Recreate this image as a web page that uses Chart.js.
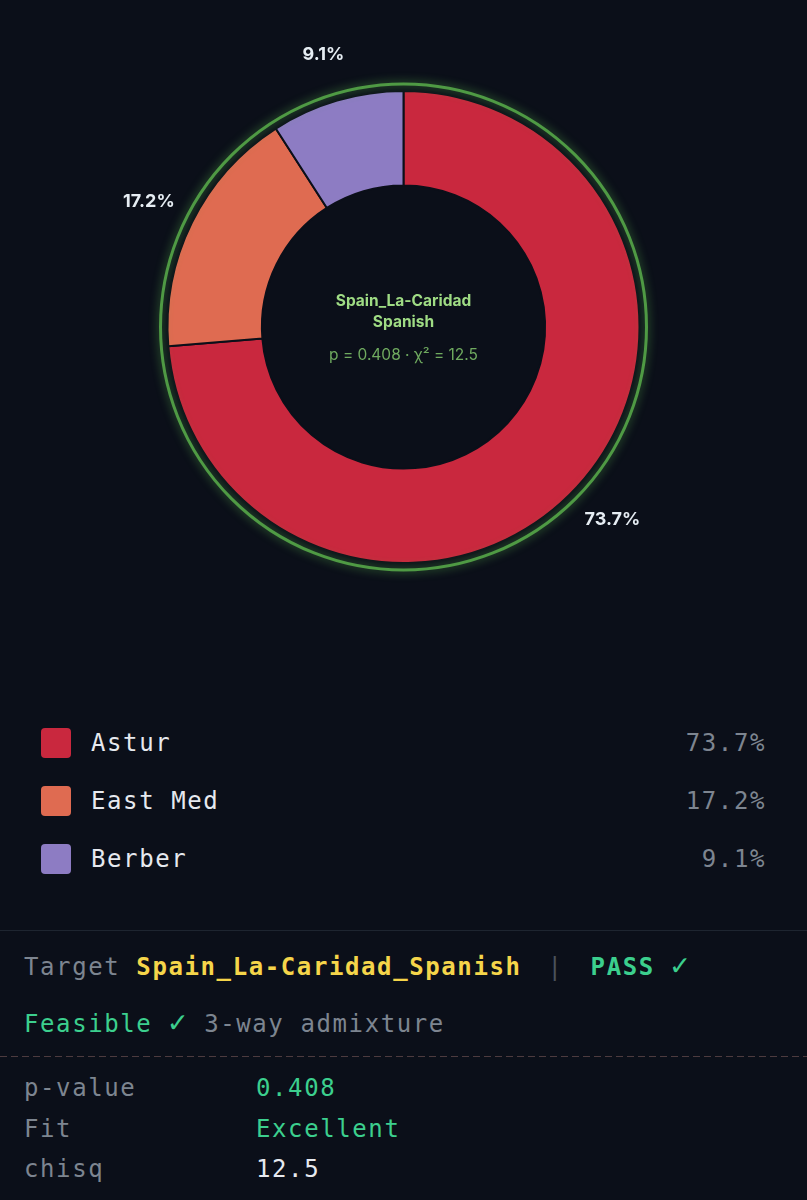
<!DOCTYPE html>
<html>
<head>
<meta charset="utf-8">
<script src="https://cdn.jsdelivr.net/npm/chart.js@4"></script>
<style>
  body { margin: 0; background: #0b0f19; width: 807px; height: 1200px; overflow: hidden; position: relative; }
  .mono { font-family: "DejaVu Sans Mono", monospace; font-size: 24px; letter-spacing: 1.6px; }
  #chartBox { position: absolute; left: 0; top: 0; width: 807px; height: 654px; }
  #legend { position: absolute; left: 0; top: 714px; width: 807px; }
  .row { position: relative; height: 58px; }
  .sw { position: absolute; left: 41px; top: 14px; width: 30px; height: 30px; border-radius: 4px; }
  .name { position: absolute; left: 91px; top: 14px; line-height: 30px; color: #e6e9ef; }
  .val { position: absolute; right: 41px; top: 14px; line-height: 30px; color: #7d8590; }
  .divider { position: absolute; left: 0; top: 930px; width: 807px; height: 1px; background: #1e2530; }
  .line { position: absolute; left: 24px; line-height: 30px; white-space: pre; }
  .tick { font-size: 30px; line-height: 20px; }
  .pipe { color: #4a515b; margin: 0 27px 0 26px; }
  .dash { position: absolute; left: 0; top: 1056px; width: 807px; height: 1px;
    background: repeating-linear-gradient(to right, #4d3b3f 0 7px, transparent 7px 11px); }
  .k { position: absolute; left: 24px; color: #7d8590; line-height: 30px; }
  .v { position: absolute; left: 256px; line-height: 30px; }
</style>
</head>
<body>
<div id="chartBox"><canvas id="admixChart"></canvas></div>
<div id="legend" class="mono"></div>
<div class="divider"></div>
<div class="line mono" style="top:952px"><span style="color:#7d8590">Target </span><span style="color:#f5d54a;font-weight:bold">Spain_La-Caridad_Spanish</span><span class="pipe">|</span><span style="color:#3ccf8e;font-weight:bold">PASS <span class="tick">✓</span></span></div>
<div class="line mono" style="top:1009px"><span style="color:#3ccf8e">Feasible <span class="tick">✓</span></span><span style="color:#7d8590"> 3-way admixture</span></div>
<div class="dash"></div>
<div id="stats" class="mono"></div>
<script>
const sources = ['Astur', 'East Med', 'Berber'];
const shares = [73.7, 17.2, 9.1];
const sliceColors = ['#c9283e', '#df6b51', '#8d7cc3'];

const targetName = 'Spain_La-Caridad';
const targetSub = 'Spanish';
const pValue = 0.408;
const chisq = 12.5;
const fitLabel = 'Excellent';

// legend rows
const legend = document.getElementById('legend');
sources.forEach(function(name, i) {
  const row = document.createElement('div');
  row.className = 'row';
  row.innerHTML = '<div class="sw" style="background:' + sliceColors[i] + '"></div>' +
    '<div class="name">' + name + '</div>' +
    '<div class="val">' + shares[i].toFixed(1) + '%</div>';
  legend.appendChild(row);
});

// stats rows
const stats = document.getElementById('stats');
const statRows = [
  ['p-value', pValue.toFixed(3), '#3ccf8e'],
  ['Fit', fitLabel, '#3ccf8e'],
  ['chisq', chisq.toFixed(1), '#e6e9ef']
];
statRows.forEach(function(r, i) {
  const top = 1073 + i * 40.5;
  stats.innerHTML += '<div class="k" style="top:' + top + 'px">' + r[0] + '</div>' +
    '<div class="v" style="top:' + top + 'px;color:' + r[2] + '">' + r[1] + '</div>';
});

const ringPlugin = {
  id: 'ring',
  afterDatasetsDraw(chart) {
    const arc = chart.getDatasetMeta(0).data[0];
    const ctx = chart.ctx;
    ctx.save();
    ctx.beginPath();
    ctx.arc(arc.x, arc.y, arc.outerRadius + 7, 0, Math.PI * 2);
    ctx.strokeStyle = '#4f9a44';
    ctx.lineWidth = 3;
    ctx.shadowColor = 'rgba(95, 190, 80, 0.7)';
    ctx.shadowBlur = 10;
    ctx.stroke();
    ctx.restore();
  }
};

const labelPlugin = {
  id: 'sliceLabels',
  afterDatasetsDraw(chart) {
    const ctx = chart.ctx;
    const meta = chart.getDatasetMeta(0);
    ctx.save();
    ctx.font = 'bold 18px Inter, sans-serif';
    ctx.fillStyle = '#e6edf3';
    ctx.textAlign = 'center';
    ctx.textBaseline = 'middle';
    meta.data.forEach(function(a, i) {
      const mid = (a.startAngle + a.endAngle) / 2;
      const r = a.outerRadius + 48;
      ctx.fillText(shares[i].toFixed(1) + '%', a.x + Math.cos(mid) * r, a.y + Math.sin(mid) * r);
    });
    ctx.restore();
  }
};

const centerPlugin = {
  id: 'centerText',
  afterDraw(chart) {
    const a = chart.getDatasetMeta(0).data[0];
    const ctx = chart.ctx;
    ctx.save();
    ctx.textAlign = 'center';
    ctx.textBaseline = 'middle';
    ctx.font = 'bold 15.5px Inter, sans-serif';
    ctx.fillStyle = '#9fdc84';
    ctx.fillText(targetName, a.x, a.y - 26);
    ctx.fillText(targetSub, a.x, a.y - 5);
    ctx.font = '15.5px Inter, sans-serif';
    ctx.fillStyle = '#6faa5f';
    ctx.fillText('p = ' + pValue.toFixed(3) + ' · χ² = ' + chisq.toFixed(1), a.x, a.y + 28);
    ctx.restore();
  }
};

new Chart(document.getElementById('admixChart'), {
  type: 'doughnut',
  data: {
    labels: sources,
    datasets: [{
      data: shares,
      backgroundColor: sliceColors,
      borderColor: '#0b0f19',
      borderWidth: 2
    }]
  },
  options: {
    responsive: true,
    maintainAspectRatio: false,
    animation: false,
    cutout: '60%',
    layout: { padding: 90 },
    plugins: {
      legend: { display: false },
      tooltip: { enabled: false }
    }
  },
  plugins: [ringPlugin, labelPlugin, centerPlugin]
});
</script>
</body>
</html>
